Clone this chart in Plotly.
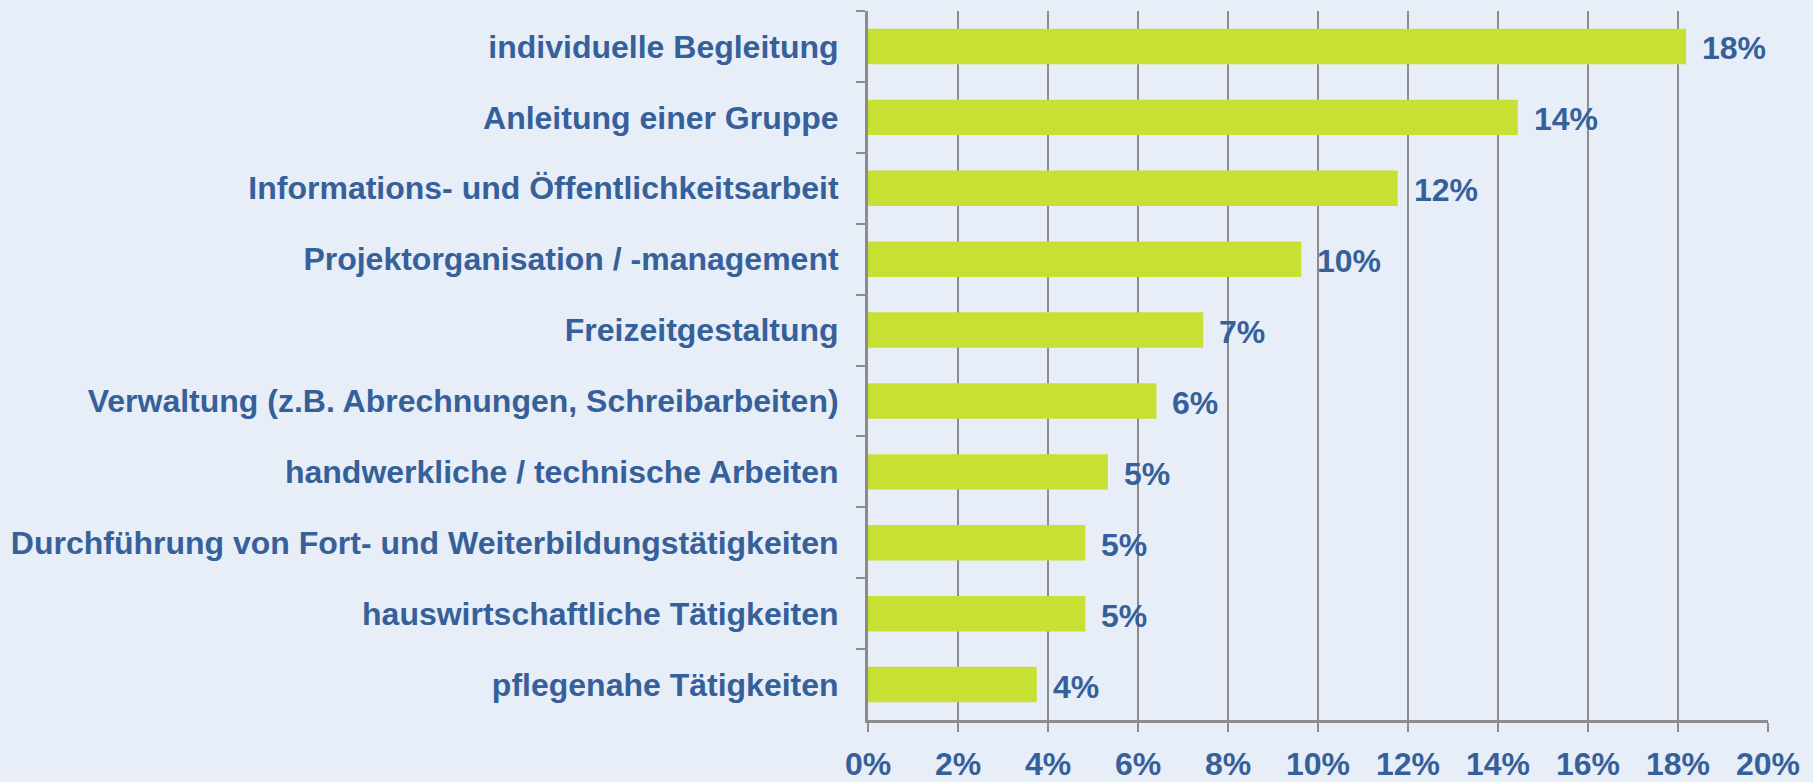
import plotly.graph_objects as go

categories = [
    "individuelle Begleitung",
    "Anleitung einer Gruppe",
    "Informations- und Öffentlichkeitsarbeit",
    "Projektorganisation / -management",
    "Freizeitgestaltung",
    "Verwaltung (z.B. Abrechnungen, Schreibarbeiten)",
    "handwerkliche / technische Arbeiten",
    "Durchführung von Fort- und Weiterbildungstätigkeiten",
    "hauswirtschaftliche Tätigkeiten",
    "pflegenahe Tätigkeiten",
]
values = [18.18, 14.44, 11.77, 9.63, 7.45, 6.41, 5.33, 4.83, 4.83, 3.75]
value_labels = ["18%", "14%", "12%", "10%", "7%", "6%", "5%", "5%", "5%", "4%"]
x_ticks = [0, 2, 4, 6, 8, 10, 12, 14, 16, 18, 20]
x_tick_labels = [f"{t}%" for t in x_ticks]

TEXT = "#36609A"
BG = "#E7EEF8"
BAR = "#C8DF34"
GRID = "#8C8C8C"
FONT = "Liberation Sans, Arial, sans-serif"
FS = 32

fig = go.Figure(
    go.Bar(
        x=values,
        y=categories,
        orientation="h",
        marker=dict(color=BAR, line=dict(width=0)),
        width=0.5,
        hoverinfo="x+y",
    )
)

for v, c, lab in zip(values, categories, value_labels):
    fig.add_annotation(
        x=v, y=c, text=lab, xref="x", yref="y",
        xanchor="left", yanchor="middle", xshift=14, yshift=-2,
        showarrow=False,
        font=dict(family=FONT, size=FS, color=TEXT, weight="bold"),
    )

fig.update_layout(
    width=1813,
    height=782,
    paper_bgcolor=BG,
    plot_bgcolor=BG,
    margin=dict(l=868, r=45, t=11, b=62, autoexpand=False),
    showlegend=False,
    font=dict(family=FONT, color=TEXT, size=FS, weight="bold"),
)

fig.update_xaxes(
    range=[0, 20],
    tickvals=x_ticks,
    ticktext=x_tick_labels,
    showgrid=True,
    gridcolor=GRID,
    gridwidth=2,
    showline=True,
    linecolor=GRID,
    linewidth=3,
    ticks="outside",
    ticklen=9,
    tickwidth=2,
    tickcolor=GRID,
    zeroline=False,
    automargin=False,
    tickfont=dict(family=FONT, size=FS, color=TEXT, weight="bold"),
    ticklabelstandoff=5,
)

fig.update_yaxes(
    autorange="reversed",
    showgrid=False,
    showline=True,
    linecolor=GRID,
    linewidth=3,
    ticks="outside",
    tickson="boundaries",
    ticklen=9,
    tickwidth=2,
    tickcolor=GRID,
    automargin=False,
    tickfont=dict(family=FONT, size=FS, color=TEXT, weight="bold"),
    ticklabelstandoff=20,
)

fig.write_html(
    "out.html",
    config={"displayModeBar": False},
    post_script="document.body.style.margin='0';document.body.style.background='" + BG + "';",
)
